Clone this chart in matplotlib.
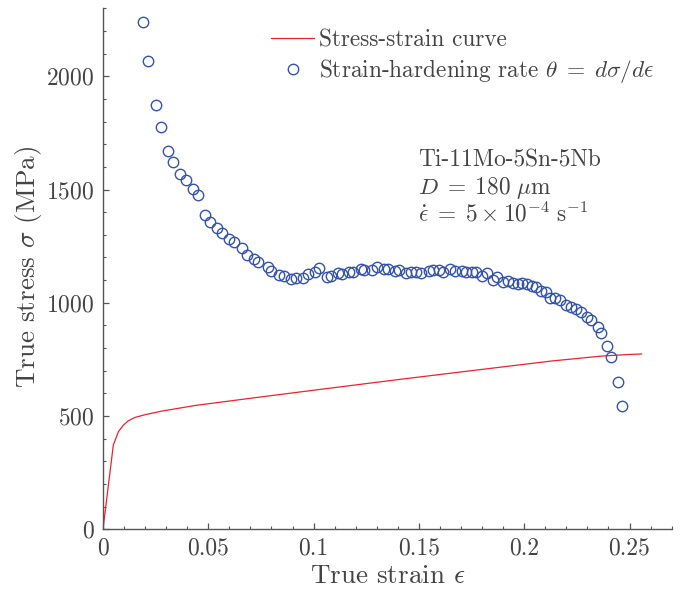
import matplotlib
matplotlib.use("Agg")
import matplotlib.pyplot as plt
from matplotlib.ticker import MultipleLocator, FuncFormatter

plt.rcParams['font.family'] = 'serif'
plt.rcParams['font.serif'] = ['cmr10']
plt.rcParams['mathtext.fontset'] = 'cm'
plt.rcParams['axes.formatter.use_mathtext'] = True
plt.rcParams['axes.unicode_minus'] = False

# stress-strain curve
strain = [0, 0.0049, 0.0073, 0.0097, 0.012, 0.0152, 0.020, 0.028, 0.044, 0.068,
          0.100, 0.141, 0.180, 0.213, 0.237, 0.250, 0.2557]
stress = [0, 372, 431, 460, 479, 494, 506, 522, 547, 576,
          614, 662, 706, 743, 765, 772, 774]

# strain-hardening rate points
theta_strain = [0.0189, 0.0216, 0.0252, 0.0275, 0.0310, 0.0333, 0.0367, 0.0392, 0.0427, 0.0449,
                0.0484, 0.0508, 0.0541, 0.0567, 0.0600, 0.0624, 0.0659, 0.0682, 0.0718, 0.0735,
                0.0782, 0.0799, 0.0837, 0.0859, 0.0895, 0.0916, 0.0951, 0.0971, 0.1008, 0.1027,
                0.1062, 0.1081, 0.1116, 0.1135, 0.1168, 0.1189, 0.1224, 0.1241, 0.1278, 0.1300,
                0.1333, 0.1352, 0.1387, 0.1406, 0.1438, 0.1462, 0.1486, 0.1510, 0.1549, 0.1568,
                0.1594, 0.1616, 0.1649, 0.1673, 0.1703, 0.1724, 0.1751, 0.1773, 0.1800, 0.1822,
                0.1852, 0.1871, 0.1901, 0.1922, 0.1946, 0.1970, 0.1990, 0.2014, 0.2038, 0.2057,
                0.2078, 0.2101, 0.2120, 0.2148, 0.2171, 0.2197, 0.2220, 0.2248, 0.2268, 0.2299,
                0.2316, 0.2348, 0.2363, 0.2395, 0.2411, 0.2443, 0.2462]
theta = [2240, 2068, 1872, 1777, 1671, 1621, 1569, 1540, 1502, 1477,
         1388, 1356, 1328, 1306, 1282, 1267, 1240, 1210, 1192, 1178,
         1159, 1141, 1122, 1118, 1106, 1110, 1108, 1125, 1137, 1154,
         1115, 1118, 1130, 1127, 1134, 1137, 1147, 1144, 1146, 1158,
         1147, 1147, 1141, 1144, 1130, 1134, 1134, 1130, 1141, 1144,
         1144, 1135, 1147, 1141, 1141, 1137, 1135, 1137, 1118, 1130,
         1100, 1113, 1090, 1096, 1088, 1083, 1088, 1083, 1075, 1068,
         1052, 1046, 1022, 1019, 1012, 991, 982, 971, 958, 938,
         922, 894, 865, 810, 762, 649, 545]

txt_color = '#444444'
lab_fs = 19.5
ann_fs = 16.8

fig = plt.figure(figsize=(6.83, 5.94), dpi=100)
ax = fig.add_axes([0.1508, 0.1089, 0.8326, 0.8771])

ax.plot(strain, stress, color='#e8242c', lw=0.9, label='Stress-strain curve')
ax.plot(theta_strain, theta, 'o', ls='none', mfc='none', mec='#3452ae', ms=7.5, mew=1.0,
        label=r'Strain-hardening rate $\theta\;=\;d\sigma/d\epsilon$')

ax.set_xlim(0, 0.27)
ax.set_ylim(0, 2300)
ax.xaxis.set_major_locator(MultipleLocator(0.05))
ax.xaxis.set_minor_locator(MultipleLocator(0.01))
ax.yaxis.set_major_locator(MultipleLocator(500))
ax.yaxis.set_minor_locator(MultipleLocator(100))
ax.xaxis.set_major_formatter(FuncFormatter(lambda v, p: f'{v:g}'))

for s in ['top', 'right']:
    ax.spines[s].set_visible(False)
for s in ['left', 'bottom']:
    ax.spines[s].set_color('#555555')
    ax.spines[s].set_linewidth(1.0)
ax.tick_params(which='both', direction='in', colors='#555555', labelcolor=txt_color,
               labelsize=17)
ax.tick_params(which='major', length=4, width=0.9, pad=6)
ax.tick_params(which='minor', length=2.4, width=0.8)

ax.set_xlabel(r'True strain $\epsilon$', fontsize=lab_fs, color=txt_color, labelpad=3)
ax.set_ylabel(r'True stress $\sigma$ (MPa)', fontsize=lab_fs, color=txt_color)
ax.yaxis.set_label_coords(-0.104, 0.503)

leg = ax.legend(loc='upper left', bbox_to_anchor=(271 / 683, 1 - 29 / 594),
                bbox_transform=fig.transFigure, frameon=False, fontsize=ann_fs,
                borderpad=0, borderaxespad=0, handlelength=1.85, handletextpad=0.22,
                labelspacing=0.25)
for t in leg.get_texts():
    t.set_color(txt_color)

ax.text(0.1495, 1603, 'Ti-11Mo-5Sn-5Nb', fontsize=ann_fs, color=txt_color, va='baseline')
ax.text(0.1495, 1480, r'$D\;=\;180\ \mu\mathrm{m}$', fontsize=ann_fs, color=txt_color,
        va='baseline')
ax.text(0.1495, 1361, r'$\dot{\epsilon}\;=\;5\times10^{-4}\ \mathrm{s}^{-1}$', fontsize=ann_fs,
        color=txt_color, va='baseline')

fig.savefig('out.png', dpi=100)
